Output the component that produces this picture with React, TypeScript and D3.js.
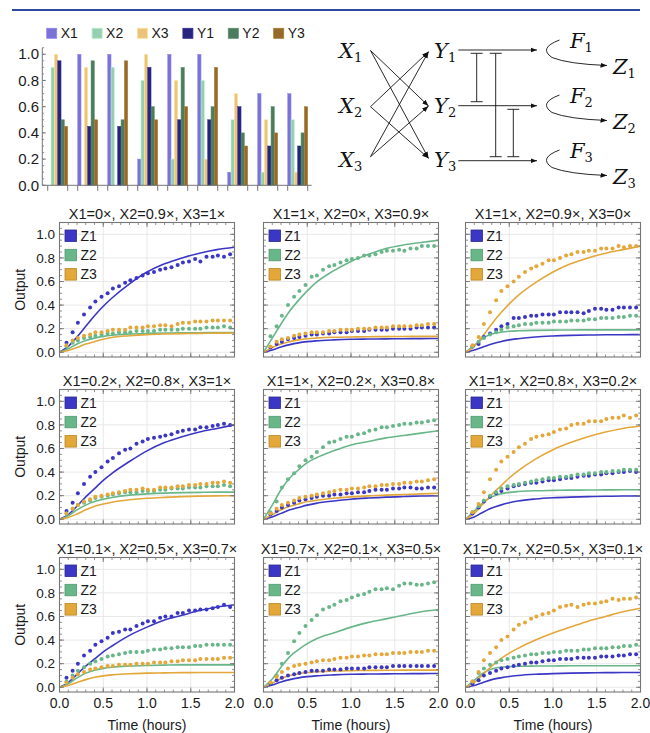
import React from 'react';
import * as d3 from 'd3';

// ---------- Bar chart data ----------
const GROUPS = ['g1', 'g2', 'g3', 'g4', 'g5', 'g6', 'g7', 'g8', 'g9'];
const X1 = [0, 1, 1, 0.2, 1, 1, 0.1, 0.7, 0.7];
const X2 = [0.9, 0, 0.9, 0.8, 0.2, 0.8, 0.5, 0.1, 0.5];
const X3 = [1, 0.9, 0, 1, 0.8, 0.2, 0.7, 0.5, 0.1];
const Y1 = [0.95, 0.45, 0.45, 0.9, 0.5, 0.5, 0.6, 0.3, 0.3];
const Y2 = [0.5, 0.95, 0.5, 0.6, 0.9, 0.6, 0.4, 0.6, 0.4];
const Y3 = [0.45, 0.5, 0.95, 0.5, 0.6, 0.9, 0.3, 0.4, 0.6];
const BAR_SERIES = ['X1', 'X2', 'X3', 'Y1', 'Y2', 'Y3'];
const BAR_VALUES = [X1, X2, X3, Y1, Y2, Y3];
const BAR_COLORS = ['#7b72d6', '#98ceb0', '#ecc37c', '#27247f', '#4b7c5c', '#94692a'];
const BAR_TICKS = [0, 0.2, 0.4, 0.6, 0.8, 1.0];

// ---------- Panel data ----------
const PANEL_TITLES = [
  'X1=0×, X2=0.9×, X3=1×', 'X1=1×, X2=0×, X3=0.9×', 'X1=1×, X2=0.9×, X3=0×',
  'X1=0.2×, X2=0.8×, X3=1×', 'X1=1×, X2=0.2×, X3=0.8×', 'X1=1×, X2=0.8×, X3=0.2×',
  'X1=0.1×, X2=0.5×, X3=0.7×', 'X1=0.7×, X2=0.1×, X3=0.5×', 'X1=0.7×, X2=0.5×, X3=0.1×',
];
const Z_NAMES = ['Z1', 'Z2', 'Z3'];
const Z_COLORS = ['#3b37c4', '#69b689', '#e3a73a'];
const Z_EDGE = ['#2a2890', '#4f9a70', '#b98520'];
const X_TICKS = [0, 0.5, 1, 1.5, 2];
const Y_TICKS = [0, 0.2, 0.4, 0.6, 0.8, 1.0];
const MODEL_T = [0, 0.1, 0.2, 0.3, 0.4, 0.5, 0.6, 0.8, 1.0, 1.2, 1.4, 1.6, 1.8, 2.0];
const DATA_T = [0.08, 0.15, 0.21, 0.28, 0.35, 0.41, 0.48, 0.55, 0.61, 0.68, 0.75, 0.81, 0.88, 0.95, 1.01,
  1.08, 1.15, 1.21, 1.28, 1.35, 1.41, 1.48, 1.55, 1.61, 1.68, 1.75, 1.81, 1.88, 1.95];

const P1_MODEL = [
  [0, 0.05, 0.13, 0.22, 0.31, 0.39, 0.46, 0.58, 0.68, 0.75, 0.80, 0.84, 0.87, 0.89],
  [0, 0.03, 0.07, 0.10, 0.12, 0.135, 0.145, 0.155, 0.16, 0.163, 0.165, 0.166, 0.167, 0.168],
  [0, 0.015, 0.04, 0.07, 0.09, 0.11, 0.125, 0.14, 0.15, 0.155, 0.158, 0.16, 0.162, 0.163],
];
const P1_DATA = [
  [0.08, 0.17, 0.25, 0.32, 0.38, 0.43, 0.47, 0.50, 0.54, 0.56, 0.59, 0.61, 0.63, 0.65, 0.67, 0.68, 0.70, 0.71, 0.72, 0.74, 0.76, 0.77, 0.79, 0.77, 0.81, 0.81, 0.82, 0.81, 0.83],
  [0.05, 0.08, 0.10, 0.12, 0.13, 0.14, 0.15, 0.16, 0.16, 0.17, 0.17, 0.17, 0.18, 0.18, 0.18, 0.18, 0.19, 0.19, 0.19, 0.19, 0.20, 0.20, 0.20, 0.20, 0.21, 0.21, 0.21, 0.22, 0.21],
  [0.06, 0.10, 0.12, 0.14, 0.15, 0.17, 0.17, 0.18, 0.19, 0.19, 0.19, 0.21, 0.21, 0.21, 0.22, 0.22, 0.23, 0.23, 0.22, 0.24, 0.25, 0.25, 0.26, 0.26, 0.26, 0.27, 0.27, 0.27, 0.27],
];
const P2_MODEL = [
  [0, 0.02, 0.045, 0.065, 0.08, 0.09, 0.097, 0.105, 0.11, 0.112, 0.114, 0.115, 0.116, 0.117],
  [0, 0.12, 0.24, 0.35, 0.44, 0.52, 0.59, 0.69, 0.77, 0.83, 0.88, 0.91, 0.93, 0.95],
  [0, 0.04, 0.07, 0.09, 0.105, 0.115, 0.12, 0.127, 0.13, 0.132, 0.133, 0.134, 0.135, 0.135],
];
const P2_DATA = [
  [0.04, 0.07, 0.09, 0.11, 0.12, 0.13, 0.14, 0.15, 0.15, 0.16, 0.16, 0.17, 0.17, 0.17, 0.18, 0.18, 0.18, 0.19, 0.19, 0.19, 0.19, 0.20, 0.20, 0.20, 0.20, 0.21, 0.21, 0.21, 0.21],
  [0.135, 0.22, 0.31, 0.40, 0.47, 0.52, 0.57, 0.64, 0.65, 0.70, 0.73, 0.74, 0.76, 0.78, 0.79, 0.80, 0.82, 0.82, 0.83, 0.85, 0.86, 0.86, 0.87, 0.86, 0.88, 0.88, 0.90, 0.90, 0.90],
  [0.05, 0.09, 0.11, 0.12, 0.14, 0.15, 0.16, 0.17, 0.17, 0.17, 0.18, 0.18, 0.19, 0.19, 0.19, 0.20, 0.20, 0.20, 0.21, 0.21, 0.21, 0.22, 0.22, 0.22, 0.22, 0.23, 0.23, 0.24, 0.24],
];
const P3_MODEL = [
  [0, 0.02, 0.045, 0.07, 0.09, 0.105, 0.115, 0.13, 0.138, 0.143, 0.146, 0.148, 0.149, 0.15],
  [0, 0.06, 0.12, 0.155, 0.17, 0.178, 0.182, 0.186, 0.188, 0.189, 0.19, 0.19, 0.19, 0.19],
  [0, 0.05, 0.14, 0.24, 0.33, 0.41, 0.48, 0.59, 0.68, 0.75, 0.80, 0.84, 0.87, 0.90],
];
const P3_DATA = [
  [0.05, 0.07, 0.13, 0.16, 0.19, 0.22, 0.24, 0.29, 0.29, 0.30, 0.31, 0.31, 0.32, 0.32, 0.32, 0.34, 0.34, 0.34, 0.34, 0.33, 0.35, 0.37, 0.37, 0.36, 0.36, 0.38, 0.38, 0.38, 0.38],
  [0.05, 0.09, 0.12, 0.15, 0.17, 0.19, 0.21, 0.22, 0.23, 0.24, 0.24, 0.25, 0.25, 0.25, 0.26, 0.26, 0.26, 0.27, 0.27, 0.27, 0.28, 0.28, 0.29, 0.29, 0.29, 0.30, 0.30, 0.31, 0.31],
  [0.06, 0.13, 0.24, 0.34, 0.44, 0.52, 0.56, 0.60, 0.64, 0.68, 0.71, 0.73, 0.75, 0.78, 0.78, 0.80, 0.82, 0.83, 0.85, 0.85, 0.86, 0.86, 0.88, 0.88, 0.88, 0.90, 0.89, 0.90, 0.90],
];
const P4_MODEL = [
  [0, 0.04, 0.11, 0.19, 0.26, 0.33, 0.39, 0.49, 0.58, 0.65, 0.70, 0.74, 0.77, 0.80],
  [0, 0.03, 0.08, 0.12, 0.15, 0.17, 0.185, 0.205, 0.215, 0.222, 0.226, 0.228, 0.23, 0.23],
  [0, 0.015, 0.045, 0.08, 0.11, 0.13, 0.145, 0.165, 0.178, 0.186, 0.192, 0.196, 0.198, 0.20],
];
const P4_DATA = [
  [0.07, 0.14, 0.22, 0.30, 0.36, 0.40, 0.44, 0.49, 0.52, 0.56, 0.59, 0.60, 0.64, 0.66, 0.68, 0.69, 0.70, 0.71, 0.72, 0.74, 0.75, 0.76, 0.76, 0.78, 0.78, 0.79, 0.80, 0.81, 0.80],
  [0.05, 0.09, 0.12, 0.14, 0.16, 0.18, 0.19, 0.20, 0.21, 0.22, 0.23, 0.23, 0.23, 0.24, 0.24, 0.24, 0.25, 0.25, 0.26, 0.26, 0.26, 0.27, 0.27, 0.27, 0.28, 0.28, 0.28, 0.29, 0.28],
  [0.05, 0.09, 0.12, 0.15, 0.17, 0.19, 0.20, 0.21, 0.22, 0.23, 0.24, 0.25, 0.25, 0.26, 0.25, 0.25, 0.27, 0.27, 0.27, 0.28, 0.28, 0.29, 0.29, 0.30, 0.30, 0.31, 0.31, 0.32, 0.31],
];
const P5_MODEL = [
  [0, 0.02, 0.05, 0.08, 0.10, 0.12, 0.135, 0.155, 0.17, 0.18, 0.188, 0.193, 0.197, 0.20],
  [0, 0.12, 0.25, 0.35, 0.42, 0.48, 0.52, 0.58, 0.63, 0.66, 0.69, 0.71, 0.73, 0.75],
  [0, 0.04, 0.08, 0.11, 0.13, 0.15, 0.16, 0.178, 0.19, 0.198, 0.205, 0.21, 0.215, 0.22],
];
const P5_DATA = [
  [0.04, 0.07, 0.10, 0.12, 0.14, 0.16, 0.17, 0.18, 0.19, 0.20, 0.20, 0.21, 0.21, 0.22, 0.22, 0.23, 0.23, 0.24, 0.25, 0.25, 0.25, 0.26, 0.26, 0.27, 0.27, 0.26, 0.26, 0.27, 0.27],
  [0.06, 0.15, 0.27, 0.34, 0.39, 0.45, 0.50, 0.53, 0.57, 0.61, 0.65, 0.66, 0.68, 0.70, 0.70, 0.72, 0.73, 0.75, 0.76, 0.78, 0.78, 0.79, 0.80, 0.81, 0.81, 0.82, 0.82, 0.83, 0.84],
  [0.05, 0.09, 0.12, 0.14, 0.16, 0.18, 0.19, 0.20, 0.21, 0.22, 0.23, 0.24, 0.25, 0.25, 0.26, 0.26, 0.27, 0.28, 0.28, 0.29, 0.29, 0.30, 0.30, 0.31, 0.31, 0.32, 0.32, 0.33, 0.34],
];
const P6_MODEL = [
  [0, 0.02, 0.06, 0.095, 0.12, 0.14, 0.155, 0.172, 0.182, 0.188, 0.192, 0.195, 0.197, 0.198],
  [0, 0.07, 0.14, 0.19, 0.215, 0.228, 0.235, 0.242, 0.245, 0.247, 0.248, 0.249, 0.25, 0.25],
  [0, 0.05, 0.13, 0.21, 0.28, 0.35, 0.41, 0.51, 0.59, 0.65, 0.70, 0.74, 0.77, 0.79],
];
const P6_DATA = [
  [0.05, 0.10, 0.15, 0.19, 0.22, 0.24, 0.26, 0.28, 0.29, 0.30, 0.31, 0.31, 0.32, 0.33, 0.33, 0.34, 0.35, 0.35, 0.36, 0.37, 0.37, 0.38, 0.38, 0.39, 0.39, 0.40, 0.40, 0.41, 0.40],
  [0.06, 0.11, 0.16, 0.20, 0.23, 0.26, 0.28, 0.29, 0.30, 0.31, 0.32, 0.33, 0.34, 0.35, 0.35, 0.36, 0.36, 0.37, 0.38, 0.38, 0.39, 0.39, 0.40, 0.40, 0.41, 0.41, 0.42, 0.42, 0.42],
  [0.06, 0.13, 0.23, 0.34, 0.42, 0.49, 0.53, 0.57, 0.61, 0.64, 0.68, 0.70, 0.71, 0.72, 0.74, 0.76, 0.77, 0.80, 0.81, 0.81, 0.83, 0.83, 0.83, 0.85, 0.86, 0.86, 0.88, 0.86, 0.88],
];
const P7_MODEL = [
  [0, 0.04, 0.11, 0.18, 0.24, 0.30, 0.35, 0.44, 0.51, 0.57, 0.61, 0.65, 0.68, 0.70],
  [0, 0.03, 0.08, 0.12, 0.145, 0.16, 0.17, 0.18, 0.185, 0.188, 0.19, 0.19, 0.19, 0.19],
  [0, 0.015, 0.04, 0.065, 0.085, 0.097, 0.105, 0.115, 0.12, 0.122, 0.124, 0.125, 0.125, 0.125],
];
const P7_DATA = [
  [0.08, 0.14, 0.20, 0.27, 0.31, 0.36, 0.39, 0.42, 0.46, 0.47, 0.49, 0.49, 0.52, 0.54, 0.56, 0.56, 0.59, 0.60, 0.60, 0.63, 0.63, 0.65, 0.65, 0.66, 0.66, 0.67, 0.68, 0.70, 0.68],
  [0.05, 0.10, 0.14, 0.17, 0.20, 0.22, 0.24, 0.26, 0.27, 0.28, 0.29, 0.30, 0.30, 0.30, 0.31, 0.32, 0.32, 0.33, 0.33, 0.34, 0.34, 0.34, 0.35, 0.35, 0.36, 0.36, 0.36, 0.36, 0.36],
  [0.04, 0.08, 0.11, 0.13, 0.15, 0.16, 0.17, 0.18, 0.18, 0.19, 0.19, 0.19, 0.20, 0.20, 0.20, 0.21, 0.21, 0.21, 0.22, 0.22, 0.23, 0.23, 0.23, 0.24, 0.24, 0.24, 0.24, 0.25, 0.25],
];
const P8_MODEL = [
  [0, 0.02, 0.045, 0.065, 0.08, 0.09, 0.097, 0.105, 0.11, 0.112, 0.114, 0.115, 0.116, 0.117],
  [0, 0.07, 0.17, 0.26, 0.32, 0.37, 0.41, 0.46, 0.51, 0.55, 0.58, 0.61, 0.64, 0.66],
  [0, 0.035, 0.075, 0.10, 0.115, 0.125, 0.132, 0.138, 0.141, 0.143, 0.144, 0.145, 0.145, 0.145],
];
const P8_DATA = [
  [0.03, 0.06, 0.08, 0.10, 0.11, 0.12, 0.13, 0.14, 0.14, 0.14, 0.15, 0.15, 0.15, 0.16, 0.16, 0.16, 0.16, 0.17, 0.17, 0.17, 0.17, 0.18, 0.18, 0.18, 0.18, 0.18, 0.18, 0.18, 0.18],
  [0.04, 0.10, 0.20, 0.29, 0.39, 0.46, 0.52, 0.57, 0.61, 0.66, 0.68, 0.70, 0.73, 0.74, 0.76, 0.78, 0.79, 0.81, 0.83, 0.83, 0.84, 0.83, 0.86, 0.88, 0.88, 0.87, 0.87, 0.88, 0.89],
  [0.04, 0.09, 0.13, 0.16, 0.18, 0.19, 0.20, 0.21, 0.22, 0.23, 0.23, 0.24, 0.25, 0.25, 0.26, 0.26, 0.27, 0.27, 0.28, 0.28, 0.28, 0.29, 0.29, 0.29, 0.30, 0.30, 0.30, 0.31, 0.31],
];
const P9_MODEL = [
  [0, 0.015, 0.04, 0.065, 0.08, 0.092, 0.1, 0.11, 0.116, 0.12, 0.122, 0.124, 0.125, 0.125],
  [0, 0.06, 0.12, 0.155, 0.17, 0.175, 0.178, 0.18, 0.181, 0.182, 0.182, 0.182, 0.182, 0.182],
  [0, 0.04, 0.11, 0.18, 0.24, 0.29, 0.33, 0.40, 0.46, 0.51, 0.56, 0.60, 0.64, 0.67],
];
const P9_DATA = [
  [0.03, 0.06, 0.10, 0.12, 0.14, 0.16, 0.17, 0.18, 0.19, 0.20, 0.21, 0.21, 0.22, 0.23, 0.23, 0.24, 0.24, 0.24, 0.25, 0.25, 0.25, 0.25, 0.26, 0.26, 0.26, 0.27, 0.27, 0.28, 0.28],
  [0.05, 0.12, 0.16, 0.19, 0.21, 0.23, 0.24, 0.25, 0.26, 0.27, 0.28, 0.28, 0.29, 0.29, 0.30, 0.30, 0.31, 0.31, 0.31, 0.32, 0.32, 0.33, 0.33, 0.33, 0.34, 0.34, 0.35, 0.35, 0.36],
  [0.05, 0.13, 0.23, 0.29, 0.34, 0.40, 0.43, 0.49, 0.53, 0.55, 0.58, 0.60, 0.62, 0.63, 0.65, 0.68, 0.69, 0.70, 0.68, 0.70, 0.71, 0.71, 0.72, 0.73, 0.75, 0.74, 0.75, 0.75, 0.76],
];
const PANEL_MODELS = [P1_MODEL, P2_MODEL, P3_MODEL, P4_MODEL, P5_MODEL, P6_MODEL, P7_MODEL, P8_MODEL, P9_MODEL];
const PANEL_DATA = [P1_DATA, P2_DATA, P3_DATA, P4_DATA, P5_DATA, P6_DATA, P7_DATA, P8_DATA, P9_DATA];

// ---------- Layout ----------
const W = 650;
const H = 733;
const SANS = '"Liberation Sans", Arial, sans-serif';
const SERIF = '"DejaVu Serif", serif';
const PANEL_LEFTS = [59.5, 263.5, 465.5];
const PANEL_TOPS = [222.5, 389.5, 557.5];
const PW = 175;
const PH = 134.5;
const FRAME = '#767676';
const TXT = '#1a1a1a';

function BarChart() {
  const x0 = d3.scaleBand<string>().domain(GROUPS).range([42.7, 312.7]).paddingInner(1 / 3).paddingOuter(1 / 6);
  const x1 = d3.scaleBand<string>().domain(BAR_SERIES).range([0, x0.bandwidth()]);
  const y = d3.scaleLinear().domain([0, 1.05]).range([185.3, 47.7]);
  const minor = d3.range(0, 1.0501, 0.05);
  const axisX = 42.3;
  return (
    <g>
      {/* legend */}
      {BAR_SERIES.map((s, i) => {
        const lx = 46.7 + i * 45.4;
        return (
          <g key={s}>
            <rect x={lx} y={28.3} width={10} height={10} fill={BAR_COLORS[i]} stroke={d3.color(BAR_COLORS[i])!.brighter(0.4).toString()} strokeWidth={0.8} />
            <text x={lx + 14} y={38.3} fontFamily={SANS} fontSize={14} fill={TXT}>{s}</text>
          </g>
        );
      })}
      {/* bars */}
      {GROUPS.map((g, gi) => (
        <g key={g}>
          {BAR_SERIES.map((s, si) => {
            const v = BAR_VALUES[si][gi];
            if (v <= 0) return null;
            return (
              <rect key={s} x={x0(g)! + x1(s)!} y={y(v)} width={x1.bandwidth()} height={y(0) - y(v)}
                fill={BAR_COLORS[si]} stroke={d3.color(BAR_COLORS[si])!.brighter(0.5).toString()} strokeWidth={0.5} />
            );
          })}
        </g>
      ))}
      {/* y axis */}
      <line x1={axisX} x2={axisX} y1={47.7} y2={y(0)} stroke={FRAME} strokeWidth={1} />
      {minor.map((t) => (
        <line key={'m' + t} x1={axisX} x2={axisX + 1.8} y1={y(t)} y2={y(t)} stroke={FRAME} strokeWidth={0.8} />
      ))}
      {BAR_TICKS.map((t) => (
        <g key={t}>
          <line x1={axisX} x2={axisX + 3.5} y1={y(t)} y2={y(t)} stroke={FRAME} strokeWidth={1} />
          <text x={39} y={y(t) + 5.2} textAnchor="end" fontFamily={SANS} fontSize={15} fill={TXT}>{t.toFixed(1)}</text>
        </g>
      ))}
      {/* x axis */}
      <line x1={axisX} x2={311.7} y1={y(0)} y2={y(0)} stroke={FRAME} strokeWidth={1} />
      {GROUPS.map((g) => (
        <g key={'t' + g}>
          <line x1={x0(g)!} x2={x0(g)!} y1={y(0)} y2={y(0) + 5.5} stroke={FRAME} strokeWidth={1} />
          <line x1={x0(g)! + x0.bandwidth()} x2={x0(g)! + x0.bandwidth()} y1={y(0)} y2={y(0) + 5.5} stroke={FRAME} strokeWidth={1} />
        </g>
      ))}
    </g>
  );
}

function Sym({ x, y, s, n }: { x: number; y: number; s: string; n: string }) {
  return (
    <text x={x} y={y} fontFamily={SERIF} fontSize={21} fontStyle="italic" fill="#111">
      {s}
      <tspan fontStyle="normal" fontSize={13} dy={4}>{n}</tspan>
    </text>
  );
}

function Diagram() {
  const xs = [{ y: 58.3, tip: 50.5 }, { y: 113.3, tip: 106.7 }, { y: 166.7, tip: 156.7 }];
  const yTips = [51.7, 106, 158.3];
  const links = [[0, 1], [0, 2], [1, 0], [1, 2], [2, 0], [2, 1]];
  const hLines = [50, 105.7, 160.7];
  const inhib = [
    { x: 476.7, y1: 53.3, y2: 101.7 },
    { x: 495.7, y1: 53.3, y2: 156.7 },
    { x: 513.3, y1: 109.3, y2: 156.7 },
  ];
  const fOff = [0, 55, 110];
  return (
    <g>
      <defs>
        <marker id="ah" viewBox="0 0 10 10" refX="10" refY="5" markerWidth="6.5" markerHeight="6.5" orient="auto" markerUnits="userSpaceOnUse">
          <path d="M0,1.2 L10,5 L0,8.8 z" fill="#111" />
        </marker>
      </defs>
      {['1', '2', '3'].map((n, i) => (
        <Sym key={'X' + n} x={339} y={xs[i].y} s="X" n={n} />
      ))}
      {['1', '2', '3'].map((n, i) => (
        <Sym key={'Y' + n} x={434} y={xs[i].y} s="Y" n={n} />
      ))}
      {links.map(([a, b]) => (
        <line key={a + '-' + b} x1={370.5} y1={xs[a].tip} x2={428.5} y2={yTips[b]} stroke="#111" strokeWidth={0.9} markerEnd="url(#ah)" />
      ))}
      {hLines.map((hy, i) => (
        <line key={'h' + i} x1={458.3} x2={537} y1={hy} y2={hy} stroke="#111" strokeWidth={0.9} markerEnd="url(#ah)" />
      ))}
      {inhib.map((b, i) => (
        <g key={'i' + i} stroke="#111" strokeWidth={0.9}>
          <line x1={b.x} x2={b.x} y1={b.y1} y2={b.y2} />
          <line x1={b.x - 6} x2={b.x + 6} y1={b.y1} y2={b.y1} />
          <line x1={b.x - 6} x2={b.x + 6} y1={b.y2} y2={b.y2} />
        </g>
      ))}
      {fOff.map((o, i) => (
        <g key={'f' + i}>
          <path d={`M559.5,${40 + o} Q538,${48 + o} 552,${57.5 + o} Q568,${64 + o} 607,${65.5 + o}`} fill="none" stroke="#111" strokeWidth={0.9} markerEnd="url(#ah)" />
          <Sym x={570} y={48.3 + o} s="F" n={String(i + 1)} />
          <Sym x={613} y={74.3 + o} s="Z" n={String(i + 1)} />
        </g>
      ))}
    </g>
  );
}

function Panel({ idx }: { idx: number }) {
  const col = idx % 3;
  const row = Math.floor(idx / 3);
  const left = PANEL_LEFTS[col];
  const top = PANEL_TOPS[row];
  const x = d3.scaleLinear().domain([0, 2]).range([left, left + PW]);
  const y = d3.scaleLinear().domain([-0.04, 1.1]).range([top + PH, top]);
  const model = PANEL_MODELS[idx];
  const data = PANEL_DATA[idx];
  const line = d3.line<number>().x((_, i) => x(MODEL_T[i])).y((d) => y(d)).curve(d3.curveMonotoneX);
  const xMinor = d3.range(0.1, 1.95, 0.1);
  const yMinor = d3.range(0, 1.1, 0.05);
  const bottom = top + PH;
  const right = left + PW;
  return (
    <g>
      {/* grid */}
      {X_TICKS.slice(1, -1).map((t) => (
        <line key={'gx' + t} x1={x(t)} x2={x(t)} y1={top} y2={bottom} stroke="#e8e8e8" strokeWidth={1} />
      ))}
      {Y_TICKS.map((t) => (
        <line key={'gy' + t} x1={left} x2={right} y1={y(t)} y2={y(t)} stroke="#e8e8e8" strokeWidth={1} />
      ))}
      {/* model lines */}
      {model.map((vals, k) => (
        <path key={'l' + k} d={line(vals)!} fill="none" stroke={Z_COLORS[k]} strokeWidth={1.6} />
      ))}
      {/* data points */}
      {data.map((vals, k) => (
        <g key={'d' + k} fill={Z_COLORS[k]}>
          {vals.map((v, i) => (
            <circle key={i} cx={x(DATA_T[i])} cy={y(v)} r={2} />
          ))}
        </g>
      ))}
      {/* frame ticks */}
      {xMinor.map((t) => (
        <g key={'xm' + t} stroke={FRAME} strokeWidth={0.8}>
          <line x1={x(t)} x2={x(t)} y1={bottom} y2={bottom - 2.5} />
          <line x1={x(t)} x2={x(t)} y1={top} y2={top + 2.5} />
        </g>
      ))}
      {X_TICKS.map((t) => (
        <g key={'xM' + t} stroke={FRAME} strokeWidth={0.9}>
          <line x1={x(t)} x2={x(t)} y1={bottom} y2={bottom - 4.5} />
          <line x1={x(t)} x2={x(t)} y1={top} y2={top + 4.5} />
        </g>
      ))}
      {yMinor.map((t) => (
        <g key={'ym' + t} stroke={FRAME} strokeWidth={0.8}>
          <line x1={left} x2={left + 2.5} y1={y(t)} y2={y(t)} />
          <line x1={right} x2={right - 2.5} y1={y(t)} y2={y(t)} />
        </g>
      ))}
      {Y_TICKS.map((t) => (
        <g key={'yM' + t} stroke={FRAME} strokeWidth={0.9}>
          <line x1={left} x2={left + 4.5} y1={y(t)} y2={y(t)} />
          <line x1={right} x2={right - 4.5} y1={y(t)} y2={y(t)} />
        </g>
      ))}
      <rect x={left} y={top} width={PW} height={PH} fill="none" stroke={FRAME} strokeWidth={1.1} />
      {/* legend */}
      {Z_NAMES.map((n, k) => (
        <g key={n}>
          <rect x={left + 5.5} y={top + 7.5 + k * 19.3} width={11.5} height={11.5} fill={Z_COLORS[k]} stroke={Z_EDGE[k]} strokeWidth={0.8} />
          <text x={left + 21} y={top + 18.2 + k * 19.3} fontFamily={SANS} fontSize={14} fill={TXT}>{n}</text>
        </g>
      ))}
      {/* title */}
      <text x={(left + right) / 2} y={top - 3.3} textAnchor="middle" fontFamily={SANS} fontSize={14.5} fill={TXT}>{PANEL_TITLES[idx]}</text>
      {col === 0 && (
        <g>
          {Y_TICKS.map((t) => (
            <text key={'yl' + t} x={left - 4.5} y={y(t) + 4.8} textAnchor="end" fontFamily={SANS} fontSize={13.5} fill={TXT}>{t.toFixed(1)}</text>
          ))}
          <text transform={`translate(20,${(top + bottom) / 2}) rotate(-90)`} textAnchor="middle" dy={5} fontFamily={SANS} fontSize={14} fill={TXT}>Output</text>
        </g>
      )}
      {row === 2 && (
        <g>
          {X_TICKS.map((t) => (
            <text key={'xl' + t} x={x(t)} y={bottom + 16} textAnchor="middle" fontFamily={SANS} fontSize={14} fill={TXT}>{t.toFixed(1)}</text>
          ))}
          <text x={(left + right) / 2} y={bottom + 38} textAnchor="middle" fontFamily={SANS} fontSize={14} fill={TXT}>Time (hours)</text>
        </g>
      )}
    </g>
  );
}

export default function App() {
  return (
    <svg width={W} height={H} viewBox={`0 0 ${W} ${H}`} style={{ position: 'absolute', left: 0, top: 0, background: '#fff' }}>
      <rect x={0} y={0} width={W} height={H} fill="#fff" />
      <line x1={12} x2={640} y1={10} y2={10} stroke="#2d4a9c" strokeWidth={2} />
      <BarChart />
      <Diagram />
      {PANEL_TITLES.map((_, i) => (
        <Panel key={i} idx={i} />
      ))}
    </svg>
  );
}
